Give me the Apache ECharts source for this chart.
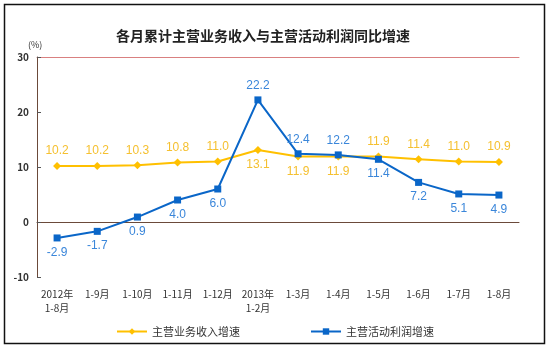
<!DOCTYPE html>
<html><head><meta charset="utf-8">
<script src="https://cdn.jsdelivr.net/npm/echarts@6/dist/echarts.min.js"></script>
<style>html,body{margin:0;padding:0;background:#fff}#c{width:550px;height:348px}</style>
</head><body><div id="c"></div>
<script>
const categories = ['2012年\n1-8月','1-9月','1-10月','1-11月','1-12月','2013年\n1-2月','1-3月','1-4月','1-5月','1-6月','1-7月','1-8月'];
const revenue = [10.2,10.2,10.3,10.8,11.0,13.1,11.9,11.9,11.9,11.4,11.0,10.9];
const profit = [-2.9,-1.7,0.9,4.0,6.0,22.2,12.4,12.2,11.4,7.2,5.1,4.9];
const revenuePos = ['top','top','top','top','top','bottom','bottom','bottom','top','top','top','top'];
const profitPos = ['bottom','bottom','bottom','bottom','bottom','top','top','top','bottom','bottom','bottom','bottom'];
const yTicks = [-10,0,10,20,30];

const font = '"Noto Sans CJK SC", sans-serif';
const chart = echarts.init(document.getElementById('c'), null, {renderer:'canvas'});
const yellow = '#FFC000', blue = '#0A66C8';
chart.setOption({
  animation:false,
  title:{text:'各月累计主营业务收入与主营活动利润同比增速',left:258,top:24,textAlign:'center',
    textStyle:{fontFamily:font,fontSize:14,fontWeight:'bold',color:'#222'}},
  graphic:[
    {type:'rect',shape:{x:4.5,y:4.5,width:540,height:339},style:{fill:'none',stroke:'#111',lineWidth:1.5},silent:true},
    {type:'text',left:28,top:40,style:{text:'(%)',fontFamily:font,fontSize:9,fill:'#333'}}
  ],
  grid:{left:37,right:31,top:57,bottom:71},
  legend:{bottom:6,left:'center',itemGap:70,itemWidth:30,itemHeight:8,
    textStyle:{fontFamily:font,fontSize:11,color:'#333'},
    data:['主营业务收入增速','主营活动利润增速']},
  xAxis:[{type:'category',data:categories,boundaryGap:true,
    axisLine:{lineStyle:{color:'#6b4a3a',width:1}},
    axisTick:{inside:true,length:4,lineStyle:{color:'#555'}},
    axisLabel:{fontFamily:font,fontSize:10,color:'#333',margin:10,lineHeight:14,interval:0}},
   {type:'category',data:categories,position:'top',
    axisLine:{show:true,lineStyle:{color:'#d98080',width:1}},axisTick:{show:false},axisLabel:{show:false}}],
  yAxis:{type:'value',min:yTicks[0],max:yTicks[yTicks.length-1],interval:10,
    axisLine:{show:true,lineStyle:{color:'#6b4a3a'}},
    axisTick:{show:true,inside:true,length:4,lineStyle:{color:'#555'}},
    splitLine:{show:false},
    axisLabel:{fontFamily:font,fontSize:10,fontWeight:'bold',color:'#333',margin:8}},
  series:[
    {name:'主营业务收入增速',type:'line',data:revenue.map((v,i)=>({value:v,label:{position:revenuePos[i]}})),
     symbol:'diamond',symbolSize:8,color:yellow,lineStyle:{width:2,color:yellow},itemStyle:{color:yellow},
     label:{show:true,distance:5,fontFamily:'"Liberation Sans", Arial, sans-serif',fontSize:12,color:'#F5C030',formatter:p=>p.value.toFixed(1)}},
    {name:'主营活动利润增速',type:'line',data:profit.map((v,i)=>({value:v,label:{position:profitPos[i]}})),
     symbol:'rect',symbolSize:7,color:blue,lineStyle:{width:2,color:blue},itemStyle:{color:blue},
     label:{show:true,distance:5,fontFamily:'"Liberation Sans", Arial, sans-serif',fontSize:12,color:'#3A86DA',formatter:p=>p.value.toFixed(1)}}
  ]
});
</script></body></html>
